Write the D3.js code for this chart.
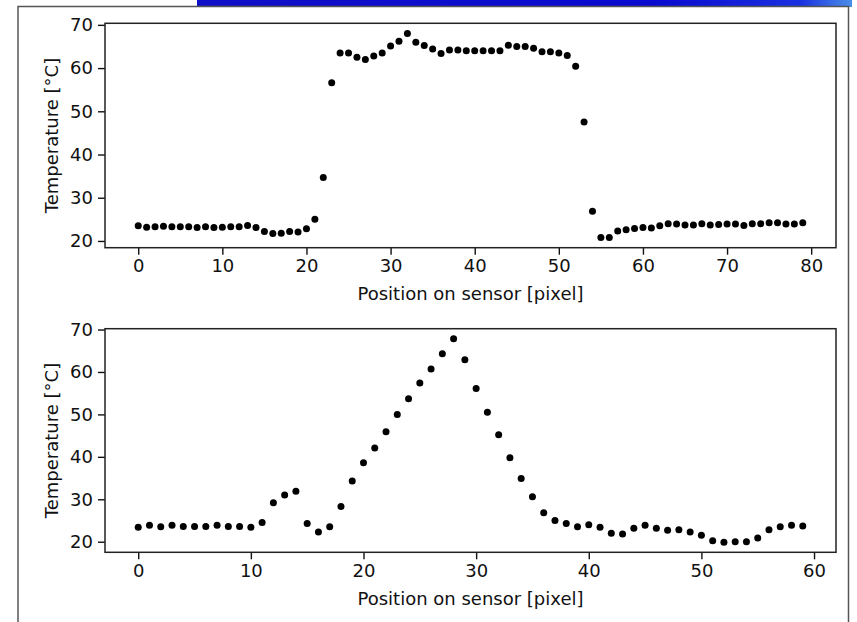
<!DOCTYPE html>
<html lang="en">
<head>
<meta charset="utf-8">
<title>Temperature profile on sensor</title>
<script src="https://d3js.org/d3.v7.min.js"></script>
<style>
  body { margin: 0; background: #fff; }
  .axis text { font: 18px "DejaVu Sans", sans-serif; fill: #111; }
  .axis line { stroke: #111; stroke-width: 1.4px; }
  .label { font: 18px "DejaVu Sans", sans-serif; fill: #111; }
</style>
</head>
<body>
<svg id="chart" width="857" height="622"></svg>
<script>
// measured temperatures, one value per sensor pixel
var temps1 = [23.5,23.2,23.3,23.4,23.3,23.3,23.3,23.1,23.3,23.1,
              23.2,23.3,23.3,23.6,23.1,22.2,21.7,21.8,22.2,22.1,
              22.8,25.0,34.7,56.6,63.5,63.5,62.5,62.0,62.8,63.5,
              65.1,66.2,68.0,66.0,65.2,64.4,63.4,64.2,64.2,64.0,
              64.0,64.0,64.0,64.0,65.3,65.0,65.0,64.6,63.8,63.8,
              63.5,62.9,60.4,47.5,26.9,20.8,20.8,22.3,22.6,22.9,
              23.1,23.0,23.5,24.0,23.9,23.7,23.7,24.0,23.7,23.8,
              23.9,23.9,23.6,24.0,24.0,24.2,24.2,23.9,23.9,24.2];
var temps2 = [23.4,23.9,23.5,23.9,23.6,23.6,23.6,23.9,23.6,23.6,
              23.4,24.5,29.2,31.0,31.9,24.3,22.3,23.5,28.3,34.3,
              38.6,42.1,45.9,50.0,53.7,57.4,60.7,64.3,67.8,62.9,
              56.1,50.5,45.2,39.8,34.9,30.6,26.8,25.0,24.3,23.5,
              24.0,23.4,22.0,21.8,23.2,23.9,23.2,22.7,22.8,22.3,
              21.5,20.2,19.9,20.0,20.0,20.9,22.8,23.5,23.9,23.7];

var xTicks1 = [0,10,20,30,40,50,60,70,80];
var xTicks2 = [0,10,20,30,40,50,60];
var yTicks = [20,30,40,50,60,70];

var svg = d3.select("#chart");

// blue slide bar at the top
var grad = svg.append("defs").append("linearGradient").attr("id", "bar");
grad.append("stop").attr("offset", "0%").attr("stop-color", "#1010c8");
grad.append("stop").attr("offset", "70%").attr("stop-color", "#0a0ad0");
grad.append("stop").attr("offset", "92%").attr("stop-color", "#1a30e0");
grad.append("stop").attr("offset", "100%").attr("stop-color", "#4a8ee8");
svg.append("rect").attr("x", 197).attr("y", 0).attr("width", 655).attr("height", 7)
  .attr("fill", "url(#bar)");

// figure frame
svg.append("path")
  .attr("d", "M18,622 L18,6.5 L848.5,6.5 L848.5,622")
  .attr("fill", "none").attr("stroke", "#555").attr("stroke-width", 1.5);

// matplotlib style 5% margins
function padded(ext) {
  var m = (ext[1] - ext[0]) * 0.05;
  return [ext[0] - m, ext[1] + m];
}

function panel(values, xTicks, top, bottom) {
  var left = 105, right = 836;
  var idx = values.map(function(d, i) { return i; });
  var x = d3.scaleLinear().domain(padded(d3.extent(idx))).range([left, right]);
  var y = d3.scaleLinear().domain(padded(d3.extent(values))).range([bottom, top]);

  svg.append("g").attr("class", "axis")
    .attr("transform", "translate(" + left + ",0)")
    .call(d3.axisLeft(y).tickValues(yTicks).tickSize(7).tickPadding(5))
    .call(function(g) { g.select(".domain").remove(); });

  svg.append("g").attr("class", "axis")
    .attr("transform", "translate(0," + bottom + ")")
    .call(d3.axisBottom(x).tickValues(xTicks).tickSize(7).tickPadding(5))
    .call(function(g) { g.select(".domain").remove(); });

  svg.append("g").selectAll("circle")
    .data(values)
    .enter()
    .append("circle")
      .attr("cx", function(d, i) { return x(i); })
      .attr("cy", function(d) { return y(d); })
      .attr("r", 3.5)
      .attr("fill", "#000");

  svg.append("rect")
    .attr("x", left).attr("y", top)
    .attr("width", right - left).attr("height", bottom - top)
    .attr("fill", "none").attr("stroke", "#222").attr("stroke-width", 1.5);

  svg.append("text")      // x axis label
    .attr("class", "label")
    .attr("x", (left + right) / 2)
    .attr("y", bottom + 46)
    .attr("text-anchor", "middle")
    .attr("dominant-baseline", "central")
    .text("Position on sensor [pixel]");

  svg.append("text")      // y axis label
    .attr("class", "label")
    .attr("transform", "translate(51," + (top + bottom) / 2 + ") rotate(-90)")
    .attr("text-anchor", "middle")
    .attr("dominant-baseline", "central")
    .text("Temperature [°C]");
}

panel(temps1, xTicks1, 23.3, 247.7);
panel(temps2, xTicks2, 328.7, 552.3);
</script>
</body>
</html>
